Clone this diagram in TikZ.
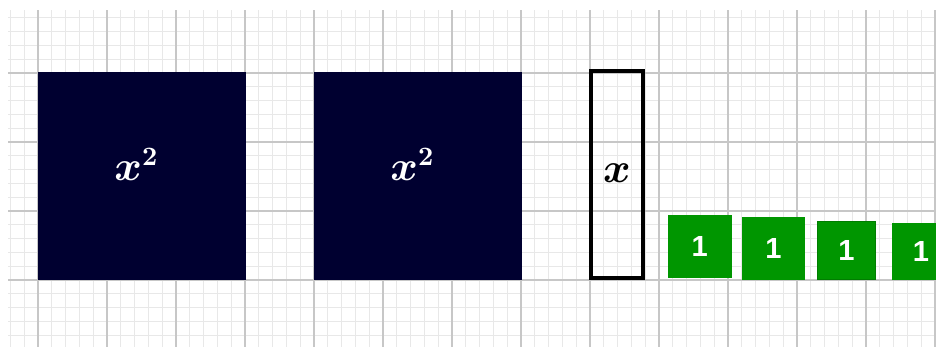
\documentclass[tikz,border=0pt]{standalone}
\usepackage{bm}
\usepackage{fontspec}
\newfontfamily\tilefont{Liberation Sans}
\definecolor{tilenavy}{RGB}{0,0,48}
\definecolor{tilegreen}{RGB}{0,150,0}
\definecolor{tileedge}{RGB}{0,125,0}
\tikzset{
  minorgrid/.style={black!9, line width=0.4pt},
  majorgrid/.style={black!22, line width=0.6pt},
  sqtile/.style={fill=tilenavy, draw=tilenavy, minimum width=3cm, minimum height=3cm,
    inner sep=0pt, anchor=south west},
  sqlabel/.style={text=white, font=\fontsize{16}{19}\selectfont},
  xbar/.style={draw=black, line width=1.7pt, minimum width=0.75cm, minimum height=3cm,
    inner sep=0pt, anchor=south west, font=\fontsize{16}{19}\selectfont},
  unittile/.style={fill=tilegreen, draw=tilegreen, inner sep=0pt, anchor=south west,
    text=white, font=\tilefont\fontsize{12}{14}\selectfont\bfseries}
}
\begin{document}
\begin{tikzpicture}
  \useasboundingbox (-0.551,-0.971) rectangle (13.014,4.058);
  % background grid
  \begin{scope}
    \clip (-0.435,-0.971) rectangle (13.014,3.899);
    \draw[minorgrid, step=0.2] (-1,-1) grid (14,4);
    \draw[majorgrid, step=1] (-1,-1) grid (14,4);
  \end{scope}
  % x^2 tiles
  \node[sqtile, label={[sqlabel, xshift=-0.08cm, yshift=0.17cm]center:$\bm{x^2}$}] (sqA) at (0,0) {};
  \node[sqtile, label={[sqlabel, xshift=-0.08cm, yshift=0.17cm]center:$\bm{x^2}$}] (sqB) at (4,0) {};
  % x tile
  \node[xbar] (xtile) at (7.985,0) {\raisebox{0.05cm}{$\bm{x}$}};
  % unit tiles
  \node[unittile, minimum width=0.913cm, minimum height=0.907cm] (oneA) at (9.126,0.025) {1};
  \node[unittile, minimum width=0.90cm, minimum height=0.894cm] (oneB) at (10.20,0) {1};
  \node[unittile, draw=tileedge, minimum width=0.84cm, minimum height=0.836cm] (oneC) at (11.29,0) {1};
  \node[unittile, minimum width=0.82cm, minimum height=0.807cm] (oneD) at (12.38,0.005) {1};
\end{tikzpicture}
\end{document}
